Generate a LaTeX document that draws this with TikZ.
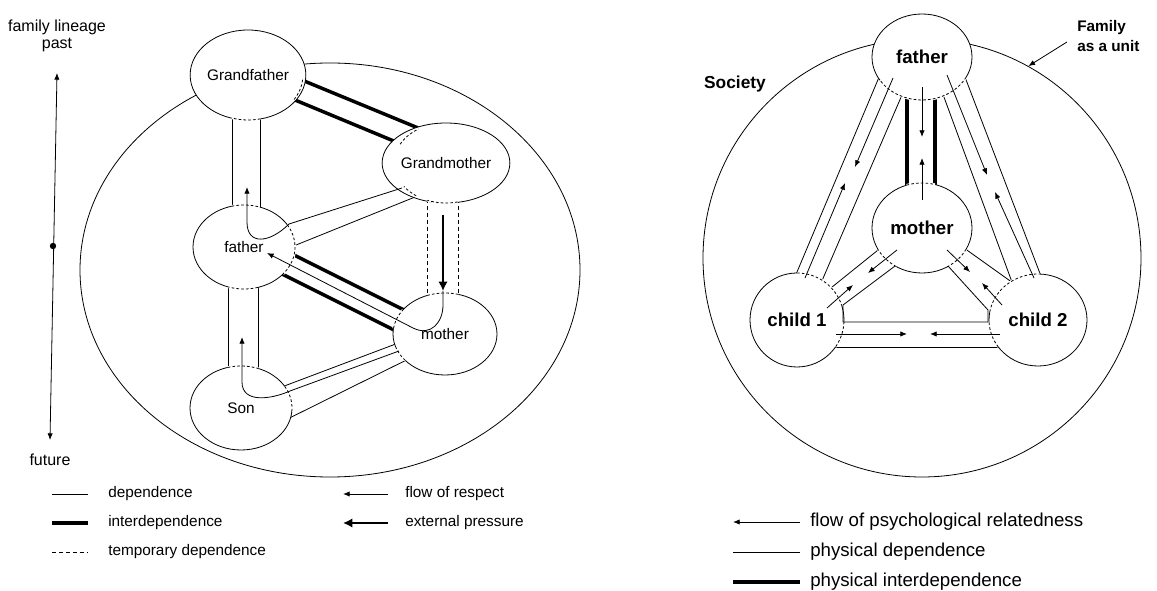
\documentclass[tikz,border=0pt]{standalone}
\usepackage{fontspec}
\setmainfont{Liberation Sans}
\usetikzlibrary{arrows.meta,calc,shapes.geometric}
\newcommand\opening[5]{%
  \draw[white,line width=1.8pt] ($(#1.center)+(#4:#2 and #3)$) arc[start angle=#4,end angle=#5,x radius=#2,y radius=#3];
  \draw[gap] ($(#1.center)+(#4:#2 and #3)$) arc[start angle=#4,end angle=#5,x radius=#2,y radius=#3];}
\begin{document}
\begin{tikzpicture}[x=0.75pt,y=-0.75pt,
  fam/.style 2 args={ellipse,draw,fill=white,line width=0.6pt,minimum width=#1,minimum height=#2,inner sep=0pt,outer sep=0pt,font=\fontsize{11.5}{13}\selectfont},
  famb/.style 2 args={fam={#1}{#2},font=\bfseries\fontsize{14}{15}\selectfont},
  thinline/.style={line width=0.6pt},
  thickline/.style={line width=2.6pt},
  templine/.style={line width=0.6pt,dash pattern=on 3pt off 2.2pt},
  gap/.style={line width=0.6pt,dash pattern=on 2pt off 1.6pt},
  flow/.style={line width=0.6pt,-{Latex[length=5pt,width=4pt]}},
  pressure/.style={line width=1.3pt,-{Latex[length=7pt,width=7pt]}},
  leg/.style={inner sep=0pt,anchor=west,font=\fontsize{11.5}{13}\selectfont},
  legr/.style={inner sep=0pt,anchor=west,font=\fontsize{14}{15}\selectfont}]
\useasboundingbox (0,0) rectangle (1157,591);

% ---------- big outlines
\node[ellipse,draw,line width=0.6pt,minimum width=375pt,minimum height=310.5pt] (home) at (330,270) {};
\node[circle,draw,line width=0.6pt,minimum size=328.5pt] (unit) at (922,258) {};

% ---------- left channel lines (ends hidden under the circles)
\draw[thinline] (232,100) -- (232,225);
\draw[thinline] (260,100) -- (260,225);
\draw[thinline] (228,270) -- (228,390);
\draw[thinline] (258,270) -- (258,390);
\draw[templine] (427,185) -- (427,310);
\draw[templine] (458,185) -- (458,310);
\draw[thickline] (280,71) -- (440,137);
\draw[thickline] (275,91.7) -- (425,154);
\draw[thickline] (270,243) -- (425,320.5);
\draw[thickline] (265,265.5) -- (415,340.5);
\draw[thinline] (278,252.3) -- (425,193);
\draw[thinline] (270,391.4) -- (410,338.6);
\draw[thinline] (275,425.2) -- (420,353.3);

% ---------- right channel lines
\draw[thickline] (907,90) -- (907,195);
\draw[thickline] (935,90) -- (935,195);
\draw[thinline] (885,63) -- (789,291);
\draw[thinline] (905,88) -- (818,290);
\draw[thinline] (960,64) -- (1044,284);
\draw[thinline] (941,89) -- (1016,293);
\draw[thinline] (888,242) -- (824,293.5);
\draw[thinline] (957,243) -- (1020,288);
\draw[thinline] (830,347) -- (1005,347);

% ---------- persons, left
\node[fam={82.5pt}{67.5pt}] (gf) at (248,75) {Grandfather};
\node[fam={78pt}{60pt}] (gm) at (446,163) {Grandmother};
\node[fam={76.5pt}{63pt}] (fa) at (244,247) {father};
\node[fam={78pt}{61.5pt}] (mo) at (445,334) {mother};
\node[fam={76.5pt}{63pt}] (so) at (241,408) {Son};

% ---------- persons, right
\node[famb={75pt}{64.5pt}] (rf) at (922,57) {father};
\node[famb={75pt}{67.5pt}] (rm) at (922,228) {mother};
\node[famb={70.5pt}{70.5pt}] (c1) at (797,320) {child 1};
\node[famb={73.5pt}{69pt}] (c2) at (1038,320) {child 2};

% ---------- openings (dashed parts of the outlines)
\opening{gf}{55}{45}{77}{107}
\opening{gf}{55}{45}{6}{33}
\opening{gm}{52}{40}{208}{238}
\opening{gm}{52}{40}{125}{144}
\opening{gm}{52}{40}{77}{111}
\opening{fa}{51}{42}{-104}{-72}
\opening{fa}{51}{42}{74}{108}
\opening{fa}{51}{42}{-32}{40}
\opening{mo}{52}{41}{-110}{-75}
\opening{mo}{52}{41}{188}{216}
\opening{mo}{52}{41}{140}{160}
\opening{so}{51}{42}{-105}{-70}
\opening{so}{51}{42}{-31}{3}
\opening{rf}{50}{43}{28}{147}
\opening{rm}{50}{45}{-108}{-75}
\opening{rm}{50}{45}{121}{151}
\opening{rm}{50}{45}{28}{60}
\opening{c1}{47}{47}{-90}{-18}
\opening{c1}{47}{47}{2}{35}
\opening{c2}{49}{46}{-170}{-88}
\opening{c2}{49}{46}{144}{178}

% ---------- flows, left
\draw[flow] (402,188) -- (289,224) .. controls (270,243) and (247,246) .. (247,222) -- (247,187);
\draw[flow] (399,351) -- (290,391) .. controls (272,399) and (242,404) .. (242,382) -- (242,337);
\draw[pressure] (443,215) -- (443,291);
\draw[flow] (443,291) -- (443,305) .. controls (443,322) and (431,337) .. (413,328) -- (267,253);

% ---------- flows, right
\draw[thinline] (895,266) -- (843,305) -- (843,322) -- (988,322) -- (988,310) -- (948,266);
\draw[flow] (893,78) -- (855,167);
\draw[flow] (805,278) -- (845,183);
\draw[flow] (947,75) -- (987,175);
\draw[flow] (1034,278) -- (995,192);
\draw[flow] (922,87) -- (922,137);
\draw[flow] (922,200) -- (922,158);
\draw[flow] (897,250) -- (868,273);
\draw[flow] (827,308) -- (853,285);
\draw[flow] (947,250) -- (970,272);
\draw[flow] (1002,305) -- (982,283);
\draw[flow] (836,334) -- (907,334);
\draw[flow] (1000,334) -- (930,334);

% ---------- lineage axis
\node[align=center,inner sep=0pt,font=\fontsize{12}{12.5}\selectfont] (lineage) at (57,36) {family lineage\\past};
\node[inner sep=0pt,font=\fontsize{12}{13}\selectfont] (future) at (50,460) {future};
\coordinate (ptop) at (57,73);
\coordinate (pbot) at (50,440);
\coordinate (now) at (53,246);
\draw[thinline,{Latex[length=5pt,width=4pt]}-{Latex[length=5pt,width=4pt]}] (pbot) -- (ptop);
\fill (now) circle (3.2);

% ---------- society labels
\node[inner sep=0pt,font=\bfseries\fontsize{13}{15}\selectfont] (society) at (735,84) {Society};
\node[inner sep=0pt,align=left,anchor=north west,font=\bfseries\fontsize{11.5}{15}\selectfont] (unitlab) at (1077,20) {Family\\as a unit};
\draw[thinline,-{Latex[length=5pt,width=4pt]}] (1067,42) -- (unit.61);

% ---------- legend left
\coordinate (l1a) at (52,494); \coordinate (l1b) at (88,494);
\coordinate (l2a) at (52,523); \coordinate (l2b) at (88,523);
\coordinate (l3a) at (52,552); \coordinate (l3b) at (88,552);
\draw[thinline] (l1a) -- (l1b);
\draw[thickline] (l2a) -- (l2b);
\draw[templine] (l3a) -- (l3b);
\node[leg] (t1) at (108,494) {dependence};
\node[leg] (t2) at (108,523) {interdependence};
\node[leg] (t3) at (108,552) {temporary dependence};
\coordinate (r1a) at (388,494); \coordinate (r1b) at (343,494);
\coordinate (r2a) at (388,523); \coordinate (r2b) at (343,523);
\draw[flow] (r1a) -- (r1b);
\draw[pressure] (r2a) -- (r2b);
\node[leg] (t4) at (405,494) {flow of respect};
\node[leg] (t5) at (405,523) {external pressure};

% ---------- legend right
\coordinate (q1a) at (800,522); \coordinate (q1b) at (733,522);
\coordinate (q2a) at (733,552); \coordinate (q2b) at (800,552);
\coordinate (q3a) at (733,582); \coordinate (q3b) at (800,582);
\draw[flow] (q1a) -- (q1b);
\draw[thinline] (q2a) -- (q2b);
\draw[thickline] (q3a) -- (q3b);
\node[legr] (u1) at (810,522) {flow of psychological relatedness};
\node[legr] (u2) at (810,552) {physical dependence};
\node[legr] (u3) at (810,582) {physical interdependence};
\end{tikzpicture}
\end{document}
